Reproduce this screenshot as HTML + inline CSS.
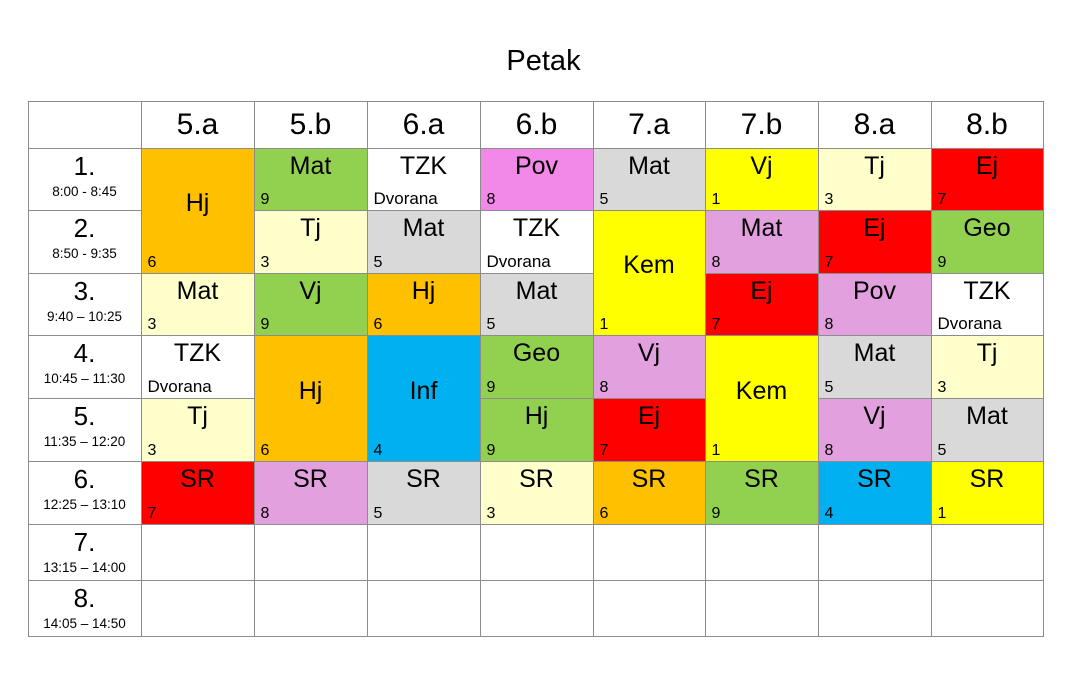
<!DOCTYPE html>
<html><head><meta charset="utf-8"><style>
body{margin:0;width:1072px;height:687px;background:#fff;font-family:"Liberation Sans",sans-serif;position:relative;overflow:hidden}
.c{position:absolute;box-sizing:border-box;border:1px solid #8c8c8c;margin:-0.5px 0 0 -0.5px}
.s{position:absolute;left:0;right:0;text-align:center;font-size:25px;color:#000}
.n{position:absolute;left:6px;bottom:1px;font-size:16px;color:#000}
.h{position:absolute;left:0;right:0;text-align:center;font-size:30px;top:6px}
.p{position:absolute;left:0;right:0;text-align:center;font-size:26px;top:2px}
.t{position:absolute;left:0;right:0;text-align:center;font-size:13.5px;top:35px}
</style></head><body>
<div style="position:absolute;left:0;width:1087px;top:45px;text-align:center;font-size:29px">Petak</div>
<div id="g"></div>
<script>
var X=[28,141,254,367,480,593,705,818,931,1043],Y=[101,148,210,273,335,398,461,524,580,636];
var C={o:"#FFC000",g:"#92D050",pb:"#F288E8",pl:"#E3A0DE",gr:"#D9D9D9",y:"#FFFF00",ly:"#FFFFCC",r:"#FF0000",b:"#00B0F0",w:"#FFFFFF"};
var D=[
[[0,2,"Hj","6","o"],[2,1,"Mat","3","ly"],[3,1,"TZK","Dvorana","w"],[4,1,"Tj","3","ly"],[5,1,"SR","7","r"]],
[[0,1,"Mat","9","g"],[1,1,"Tj","3","ly"],[2,1,"Vj","9","g"],[3,2,"Hj","6","o"],[5,1,"SR","8","pl"]],
[[0,1,"TZK","Dvorana","w"],[1,1,"Mat","5","gr"],[2,1,"Hj","6","o"],[3,2,"Inf","4","b"],[5,1,"SR","5","gr"]],
[[0,1,"Pov","8","pb"],[1,1,"TZK","Dvorana","w"],[2,1,"Mat","5","gr"],[3,1,"Geo","9","g"],[4,1,"Hj","9","g"],[5,1,"SR","3","ly"]],
[[0,1,"Mat","5","gr"],[1,2,"Kem","1","y"],[3,1,"Vj","8","pl"],[4,1,"Ej","7","r"],[5,1,"SR","6","o"]],
[[0,1,"Vj","1","y"],[1,1,"Mat","8","pl"],[2,1,"Ej","7","r"],[3,2,"Kem","1","y"],[5,1,"SR","9","g"]],
[[0,1,"Tj","3","ly"],[1,1,"Ej","7","r"],[2,1,"Pov","8","pl"],[3,1,"Mat","5","gr"],[4,1,"Vj","8","pl"],[5,1,"SR","4","b"]],
[[0,1,"Ej","7","r"],[1,1,"Geo","9","g"],[2,1,"TZK","Dvorana","w"],[3,1,"Tj","3","ly"],[4,1,"Mat","5","gr"],[5,1,"SR","1","y"]]];
var H=["5.a","5.b","6.a","6.b","7.a","7.b","8.a","8.b"];
var T=["8:00 - 8:45","8:50 - 9:35","9:40 – 10:25","10:45 – 11:30","11:35 – 12:20","12:25 – 13:10","13:15 – 14:00","14:05 – 14:50"];
var o="";
function cell(x0,x1,y0,y1,bg,inner){return '<div class="c" style="left:'+x0+'px;top:'+y0+'px;width:'+(x1-x0+1)+'px;height:'+(y1-y0+1)+'px;background:'+bg+'">'+inner+'</div>';}
o+=cell(X[0],X[1],Y[0],Y[1],"#fff","");
for(var i=0;i<8;i++)o+=cell(X[i+1],X[i+2],Y[0],Y[1],"#fff",'<div class="h">'+H[i]+'</div>');
for(var r=0;r<8;r++)o+=cell(X[0],X[1],Y[r+1],Y[r+2],"#fff",'<div class="p">'+(r+1)+'.</div><div class="t">'+T[r]+'</div>');
for(var c=0;c<8;c++){for(var r=6;r<8;r++)o+=cell(X[c+1],X[c+2],Y[r+1],Y[r+2],"#fff","");
D[c].forEach(function(e){var y0=Y[e[0]+1],y1=Y[e[0]+1+e[1]];var h=y1-y0;
var top=e[1]==2?(h/2-22):3;
var isD=e[3]=="Dvorana";
o+=cell(X[c+1],X[c+2],y0,y1,C[e[4]],'<div class="s" style="top:'+top+'px">'+e[2]+'</div><div class="n" style="'+(isD?'font-size:17px;':'')+'">'+e[3]+'</div>');});}
document.getElementById("g").innerHTML=o;
</script>
</body></html>
